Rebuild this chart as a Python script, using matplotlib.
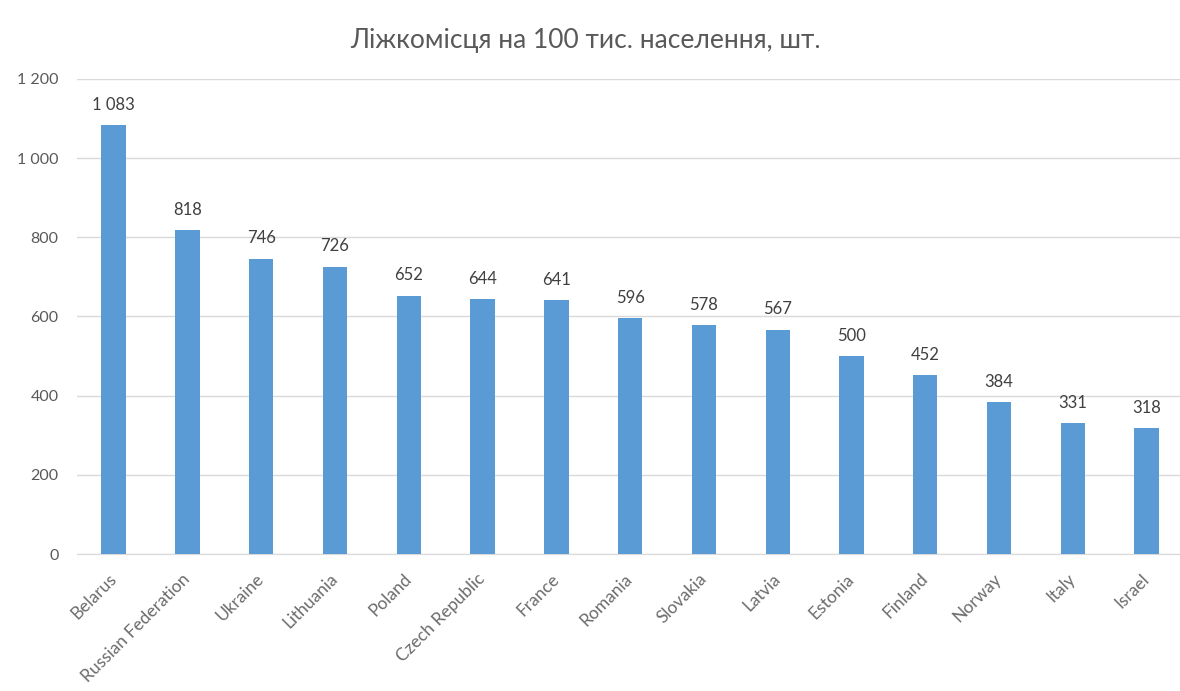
import matplotlib
matplotlib.use('Agg')
import matplotlib.pyplot as plt
from matplotlib.ticker import FuncFormatter

countries = ['Belarus', 'Russian Federation', 'Ukraine', 'Lithuania', 'Poland',
             'Czech Republic', 'France', 'Romania', 'Slovakia', 'Latvia',
             'Estonia', 'Finland', 'Norway', 'Italy', 'Israel']
beds = [1083, 818, 746, 726, 652, 644, 641, 596, 578, 567, 500, 452, 384, 331, 318]
title = 'Ліжкомісця на 100 тис. населення, шт.'

plt.rcParams['font.family'] = ['Lato', 'Open Sans', 'DejaVu Sans']


def spaced(v, pos=None):
    # thousands separated with a space, e.g. 1 200
    return f'{int(v):,}'.replace(',', ' ')


fig = plt.figure(figsize=(11.8, 6.91), dpi=100)
ax = fig.add_axes([0.065, 0.198, 0.938, 0.688])

x = range(len(countries))
bars = ax.bar(x, beds, width=0.33, color='#5B9BD5', zorder=3)

for rect, v in zip(bars, beds):
    ax.annotate(spaced(v), (rect.get_x() + rect.get_width() / 2, v),
                xytext=(0, 9), textcoords='offset points',
                ha='center', va='bottom', fontsize=12, color='#404040')

ax.set_xlim(-0.5, len(countries) - 0.5)
ax.set_ylim(0, 1200)
ax.set_yticks(range(0, 1201, 200))
ax.yaxis.set_major_formatter(FuncFormatter(spaced))
ax.grid(axis='y', color='#D9D9D9', linewidth=1, zorder=0)

ax.set_xticks(list(x))
ax.set_xticklabels(countries, rotation=45, ha='right', va='center',
                   rotation_mode='anchor', fontsize=12.5, color='#6B6B6B')
ax.tick_params(axis='x', length=0, pad=16)
ax.tick_params(axis='y', length=0, pad=13, labelsize=11.5, labelcolor='#595959')

for side in ['top', 'right', 'left']:
    ax.spines[side].set_visible(False)
ax.spines['bottom'].set_color('#D9D9D9')

fig.text(0.496, 0.942, title, ha='center', va='center', fontsize=19,
         color='#595959')

fig.savefig('out.png', dpi=100, facecolor='white')
